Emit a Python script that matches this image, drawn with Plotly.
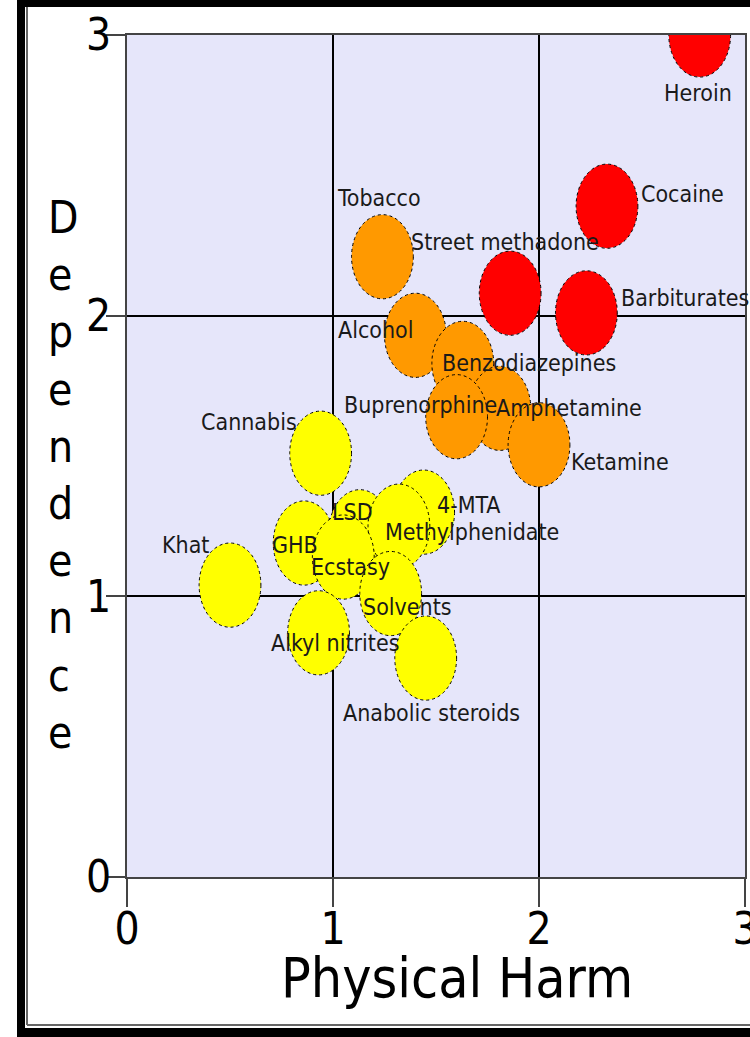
import plotly.graph_objects as go

# ---------------- data ----------------
drugs = ["Heroin", "Cocaine", "Barbiturates", "Street methadone",
         "Tobacco", "Alcohol", "Benzodiazepines", "Amphetamine", "Buprenorphine", "Ketamine",
         "Cannabis", "4-MTA", "LSD", "Methylphenidate", "Khat", "GHB", "Ecstasy",
         "Solvents", "Alkyl nitrites", "Anabolic steroids"]
physical_harm = [2.78, 2.33, 2.23, 1.86,
                 1.24, 1.40, 1.63, 1.81, 1.60, 2.00,
                 0.94, 1.44, 1.13, 1.32, 0.50, 0.86, 1.05,
                 1.28, 0.93, 1.45]
dependence = [3.00, 2.39, 2.01, 2.08,
              2.21, 1.93, 1.83, 1.67, 1.64, 1.54,
              1.51, 1.30, 1.23, 1.25, 1.04, 1.19, 1.14,
              1.01, 0.87, 0.78]
harm_group = ["high"] * 4 + ["medium"] * 6 + ["low"] * 10
tick_values = [0, 1, 2, 3]
tick_labels = ["0", "1", "2", "3"]

# ---------------- styling / layout helpers ----------------
group_colors = {"high": "#FF0000", "medium": "#FF9900", "low": "#FFFF00"}
radius = 0.15
# label centre offsets from each point (data units)
label_dx = [-0.008, 0.367, 0.481, -0.023,
            -0.017, -0.196, 0.321, 0.336, -0.173, 0.391,
            -0.35, 0.22, -0.035, 0.355, -0.214, -0.044, 0.035,
            0.082, 0.082, 0.028]
label_dy = [-0.207, 0.043, 0.053, 0.182,
            0.209, 0.019, 0.001, 0.001, 0.041, -0.062,
            0.111, 0.025, 0.07, -0.021, 0.143, -0.007, -0.036,
            -0.048, -0.036, -0.196]

FONT = "DejaVu Sans Condensed, Liberation Sans Narrow, DejaVu Sans, sans-serif"
W, H = 750, 1037
L, R, T, B = 127, 5, 35, 160
PW, PH = W - L - R, H - T - B


def px_x(p):
    return (p - L) / PW


def px_y(p):
    return (H - B - p) / PH


fig = go.Figure()
fig.add_trace(go.Scatter(
    x=physical_harm, y=dependence, text=drugs, mode="markers",
    marker=dict(size=1, opacity=0), hovertemplate="%{text}<br>%{x}, %{y}<extra></extra>",
    showlegend=False))

shapes = []
for x, y, g in zip(physical_harm, dependence, harm_group):
    shapes.append(dict(type="circle", xref="x", yref="y", layer="between",
                       x0=x - radius, x1=x + radius, y0=y - radius, y1=y + radius,
                       fillcolor=group_colors[g],
                       line=dict(color="#000000", width=1, dash="dot")))

# outer frame
frame_black = "#000000"
shapes += [
    dict(type="rect", xref="paper", yref="paper", layer="above",
         x0=px_x(17), x1=px_x(25), y0=px_y(1037), y1=px_y(0),
         fillcolor=frame_black, line=dict(width=0)),
    dict(type="rect", xref="paper", yref="paper", layer="above",
         x0=px_x(17), x1=px_x(750), y0=px_y(7), y1=px_y(0),
         fillcolor=frame_black, line=dict(width=0)),
    dict(type="rect", xref="paper", yref="paper", layer="above",
         x0=px_x(17), x1=px_x(750), y0=px_y(1037), y1=px_y(1028),
         fillcolor=frame_black, line=dict(width=0)),
    dict(type="line", xref="paper", yref="paper", layer="above",
         x0=px_x(27), x1=px_x(27), y0=px_y(1025), y1=px_y(7),
         line=dict(color="#666666", width=2)),
    dict(type="line", xref="paper", yref="paper", layer="above",
         x0=px_x(27), x1=px_x(750), y0=px_y(1025), y1=px_y(1025),
         line=dict(color="#666666", width=2)),
]

annotations = []
for name, x, y, dx, dy in zip(drugs, physical_harm, dependence, label_dx, label_dy):
    annotations.append(dict(x=x + dx, y=y + dy, xref="x", yref="y", text=name,
                            showarrow=False, xanchor="center", yanchor="middle",
                            font=dict(family=FONT, size=23, color="#1a1a1a")))

annotations.append(dict(text="<br>".join(list("Dependence")), xref="paper", yref="paper",
                        x=px_x(46), y=px_y(475), xanchor="left", yanchor="middle",
                        align="left", showarrow=False,
                        font=dict(family=FONT, size=44, color="#000000")))
annotations.append(dict(text="Physical Harm", xref="paper", yref="paper",
                        x=px_x(457), y=px_y(978), xanchor="center", yanchor="middle",
                        showarrow=False,
                        font=dict(family=FONT, size=55, color="#000000")))

axis_common = dict(range=[0, 3], tickvals=tick_values, ticktext=tick_labels,
                   showline=True, linecolor="#444444", linewidth=2, mirror=True,
                   ticks="outside", tickcolor="#444444", tickwidth=1.5,
                   gridcolor="#000000", zeroline=False, fixedrange=True,
                   ticklabeloverflow="allow", automargin=False,
                   tickfont=dict(family=FONT, size=44, color="#000000"))

fig.update_layout(
    width=W, height=H,
    margin=dict(l=L, r=R, t=T, b=B, pad=0, autoexpand=False),
    paper_bgcolor="#FFFFFF", plot_bgcolor="#E6E6FA",
    xaxis=dict(**axis_common, ticklen=28, gridwidth=1.5, ticklabelstandoff=-16),
    yaxis=dict(**axis_common, ticklen=19, gridwidth=2, ticklabelstandoff=-14),
    shapes=shapes, annotations=annotations, showlegend=False,
)

fig.write_html("out.html", config={"displayModeBar": False},
               post_script="document.body.style.margin='0';document.body.style.overflow='hidden';")
